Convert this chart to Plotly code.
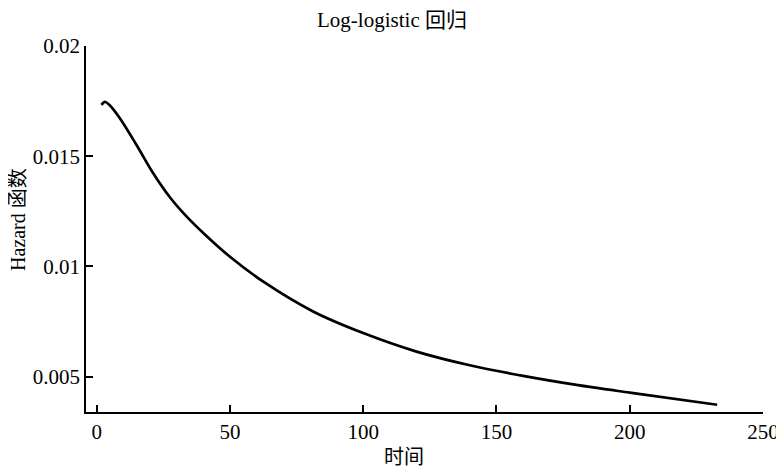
import plotly.graph_objects as go

# Data
time_vals = [1.8, 3.0, 5.0, 8.7, 14.9, 21.1, 27.4, 33.7, 41.2, 49.9, 62.4, 81.2, 100.0,
             120.0, 140.0, 160.0, 180.0, 200.0, 232.8]
hazard_vals = [0.01733, 0.01747, 0.01730, 0.01672, 0.01552, 0.01425, 0.01315, 0.01227,
               0.01138, 0.01045, 0.00932, 0.00796, 0.00698, 0.00614, 0.00552, 0.00504,
               0.00463, 0.00428, 0.00373]

x_ticks = [0, 50, 100, 150, 200, 250]
y_ticks = [0.005, 0.01, 0.015, 0.02]
y_tick_text = ["0.005", "0.01", "0.015", "0.02"]

serif = "Liberation Serif, Times New Roman, Noto Sans CJK SC, serif"

# page has an 8px body margin; figure is sized to fill the rest of the window
OFF = 8
W, H = 784 - OFF, 467 - OFF
# plot area in page pixels
PL, PR, PT, PB = 86, 763, 46, 412
ml, mr, mt, mb = PL - OFF, W - (PR - OFF), PT - OFF, H - (PB - OFF)


def to_paper(px, py):
    return (px - PL) / (PR - PL), 1 - (py - PT) / (PB - PT)


xl_x, xl_y = to_paper(404, 457)
yl_x, yl_y = to_paper(18, 220)

fig = go.Figure()
fig.add_trace(go.Scatter(
    x=time_vals, y=hazard_vals, mode="lines",
    line=dict(color="black", width=2.7, shape="spline", smoothing=0.9),
    showlegend=False, hoverinfo="skip",
))

fig.update_layout(
    width=W, height=H,
    margin=dict(l=ml, r=mr, t=mt, b=mb, pad=0),
    paper_bgcolor="white", plot_bgcolor="white",
    font=dict(family=serif, color="black", size=21),
    title=dict(text="Log-logistic 回归", x=(392 - OFF) / W, xref="container", xanchor="center",
               y=1 - (20 - OFF) / H, yref="container", yanchor="middle",
               font=dict(family=serif, size=21, color="black")),
    annotations=[
        dict(text="时间", x=xl_x, y=xl_y, xref="paper", yref="paper",
             showarrow=False, xanchor="center", yanchor="middle",
             font=dict(family=serif, size=20, color="black")),
        dict(text="Hazard 函数", x=yl_x, y=yl_y, xref="paper", yref="paper",
             showarrow=False, xanchor="center", yanchor="middle", textangle=-90,
             font=dict(family=serif, size=20, color="black")),
    ],
)

fig.update_xaxes(
    range=[-4, 250], tickvals=x_ticks, ticktext=[str(v) for v in x_ticks],
    showline=True, linecolor="black", linewidth=1.5,
    ticks="inside", ticklen=7, tickwidth=1.5, tickcolor="black",
    showgrid=False, zeroline=False, automargin=False,
    tickfont=dict(family=serif, size=21, color="black"),
)
fig.update_yaxes(
    range=[0.0034, 0.02], tickvals=y_ticks, ticktext=y_tick_text,
    showline=True, linecolor="black", linewidth=1.5,
    ticks="inside", ticklen=7, tickwidth=1.5, tickcolor="black",
    showgrid=False, zeroline=False, automargin=False,
    tickfont=dict(family=serif, size=21, color="black"),
)

fig.write_html("out.html")
